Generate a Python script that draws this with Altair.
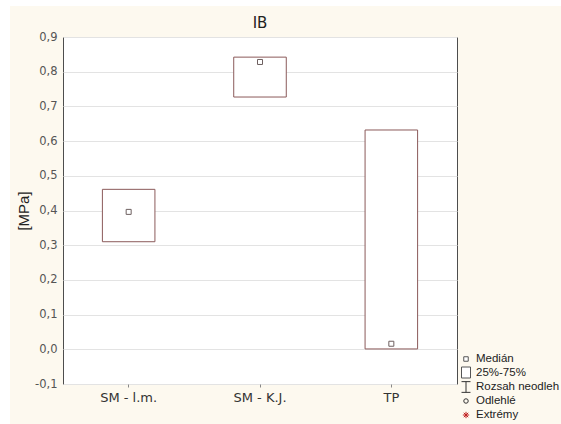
import altair as alt
import pandas as pd

# Interquartile boxes and medians of IB per sample group
groups = ["SM - l.m.", "SM - K.J.", "TP"]
q1 = [0.310, 0.727, 0.001]
q3 = [0.461, 0.842, 0.632]
median = [0.396, 0.828, 0.016]

y_ticks = [-0.1, 0.0, 0.1, 0.2, 0.3, 0.4, 0.5, 0.6, 0.7, 0.8, 0.9]

legend_labels = ["Medián", "25%-75%", "Rozsah neodleh", "Odlehlé", "Extrémy"]

df = pd.DataFrame({"group": groups, "q1": q1, "q3": q3, "median": median})

W, H = 394, 347
BOX = "#8b5a5a"
SYM = "#555555"

x_axis = alt.Axis(
    title=None, labelAngle=0, labelFont="DejaVu Sans", labelFontSize=13,
    labelColor="#333333", tickSize=3, tickColor="#888888", labelPadding=4,
    domain=False, labelOverlap=False,
)
x_scale = alt.Scale(paddingInner=0.6, paddingOuter=0.3)

y_scale = alt.Scale(domain=[-0.1, 0.9], nice=False, zero=False)
y_axis = alt.Axis(
    values=y_ticks, tickCount=len(y_ticks), title="[MPa]",
    labelOverlap=False,
    labelExpr="replace(replace(format(datum.value, '.1f'), '.', ','), '\u2212', '-')",
    labelFont="DejaVu Sans", labelFontSize=11.5, labelColor="#555555",
    labelPadding=6, ticks=False, domain=False,
    grid=True, gridColor="#e3e3e3",
    titleFont="Liberation Sans", titleFontSize=15, titleColor="#222222",
    titleFontWeight="normal", titleAngle=270, titleX=-40, titleY=H / 2,
    titleAlign="center", titleBaseline="middle",
)

boxes = alt.Chart(df).mark_bar(
    fill="white", stroke=BOX, strokeWidth=1
).encode(
    x=alt.X("group:N", sort=groups, scale=x_scale, axis=x_axis),
    y=alt.Y("q1:Q", scale=y_scale, axis=y_axis),
    y2="q3:Q",
)

medians = alt.Chart(df).mark_point(
    shape="square", size=25, filled=False, stroke="#6e6060", strokeWidth=1,
    fill="white", fillOpacity=1, opacity=1,
).encode(
    x=alt.X("group:N", sort=groups, scale=x_scale, axis=x_axis),
    y=alt.Y("median:Q", scale=y_scale, axis=y_axis),
)

one = alt.Data(values=[{}])

# white margin strips along the top and left edges of the page
strips = [
    alt.Chart(one).mark_rect(fill="white").encode(
        x=alt.value(-63), x2=alt.value(W + 104), y=alt.value(-37), y2=alt.value(-31)
    ),
    alt.Chart(one).mark_rect(fill="white").encode(
        x=alt.value(-63), x2=alt.value(-53), y=alt.value(-37), y2=alt.value(H + 40)
    ),
]

title = alt.Chart(one).mark_text(
    text="IB", font="DejaVu Sans", fontSize=15, color="#222222",
    align="center", baseline="alphabetic",
).encode(x=alt.value(W / 2), y=alt.value(-9))

# hand-drawn legend beside the lower right corner of the plot
lx_sym, lx_txt = 403, 413
rows = [322, 336, 350, 364, 378]

legend_layers = [
    alt.Chart(one).mark_point(shape="square", size=20, stroke=SYM, fill="white",
                              fillOpacity=1, strokeWidth=1).encode(
        x=alt.value(lx_sym), y=alt.value(rows[0])),
    alt.Chart(one).mark_rect(fill="white", stroke=SYM, strokeWidth=1).encode(
        x=alt.value(lx_sym - 4.5), x2=alt.value(lx_sym + 4.5),
        y=alt.value(rows[1] - 6), y2=alt.value(rows[1] + 5)),
    alt.Chart(one).mark_point(shape="M-1,-1.2H1M0,-1.2V1.2M-1,1.2H1", size=80,
                              stroke="#333333", strokeWidth=1, filled=False,
                              opacity=1).encode(
        x=alt.value(lx_sym), y=alt.value(rows[2])),
    alt.Chart(one).mark_point(shape="circle", size=20, stroke="#333333",
                              strokeWidth=1, filled=False, opacity=1).encode(
        x=alt.value(lx_sym), y=alt.value(rows[3])),
    alt.Chart(one).mark_point(
        shape="M-1,0H1M0,-1V1M-0.7,-0.7L0.7,0.7M-0.7,0.7L0.7,-0.7", size=40,
        stroke="#c02020", strokeWidth=1, filled=False, opacity=1).encode(
        x=alt.value(lx_sym), y=alt.value(rows[4])),
]
for lbl, ry in zip(legend_labels, rows):
    legend_layers.append(
        alt.Chart(one).mark_text(
            text=lbl, align="left", baseline="middle", font="Liberation Sans",
            fontSize=11.5, color="#222222",
        ).encode(x=alt.value(lx_txt), y=alt.value(ry))
    )

chart = alt.layer(
    *strips, boxes, medians, title, *legend_layers
).properties(
    width=W, height=H,
    autosize=alt.AutoSizeParams(type="none"),
    padding={"left": 63, "top": 37, "right": 104, "bottom": 40},
).configure(
    background="#fdf9ef",
).configure_view(
    fill="white", stroke="#4d4d4d", strokeWidth=1,
)

chart.save("out.html", embed_options={"renderer": "svg", "actions": False})
